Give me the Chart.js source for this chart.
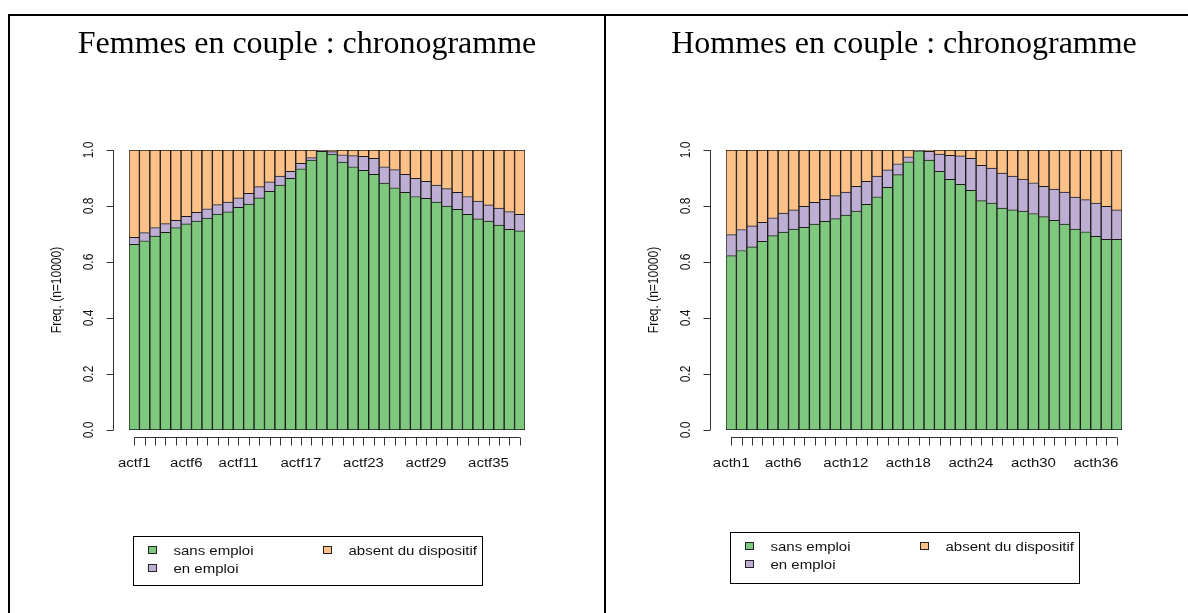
<!DOCTYPE html>
<html lang="fr">
<head>
<meta charset="utf-8">
<title>Chronogrammes</title>
<script src="https://cdn.jsdelivr.net/npm/chart.js@4"></script>
<style>
  html, body { margin: 0; padding: 0; background: #fff; overflow: hidden; }
  body { width: 1188px; height: 613px; position: relative; }
  .frame { position: absolute; left: 8px; top: 14px; width: 1200px; height: 620px;
           border-top: 2px solid #000; border-left: 2px solid #000; }
  .sep { position: absolute; left: 604px; top: 14px; width: 2px; height: 620px; background: #000; }
  .panel { position: absolute; top: 16px; width: 594px; height: 597px; }
  #p1 { left: 10px; }
  #p2 { left: 607px; }
</style>
</head>
<body>
<div class="frame"></div>
<div class="sep"></div>
<div class="panel" id="p1"><canvas id="femmes"></canvas></div>
<div class="panel" id="p2"><canvas id="hommes"></canvas></div>

<script>
// états et couleurs (palette Accent)
const etats = ['sans emploi', 'en emploi', 'absent du dispositif'];
const couleurs = ['#7FC97F', '#BEAED4', '#FDC086'];
const yTicks = [0, 0.2, 0.4, 0.6, 0.8, 1.0];

// femmes en couple
const femmesLabels = Array.from({ length: 38 }, (_, i) => 'actf' + (i + 1));
const femmesTicks = ['actf1', 'actf6', 'actf11', 'actf17', 'actf23', 'actf29', 'actf35'];
const femmesSansEmploi = [0.663, 0.676, 0.693, 0.706, 0.723, 0.736, 0.746, 0.757, 0.771, 0.779,
  0.795, 0.807, 0.829, 0.852, 0.875, 0.899, 0.933, 0.964, 0.995, 0.985,
  0.957, 0.940, 0.927, 0.913, 0.882, 0.865, 0.849, 0.834, 0.827, 0.814,
  0.800, 0.788, 0.770, 0.754, 0.746, 0.732, 0.717, 0.711];
const femmesEnEmploi = [0.025, 0.029, 0.030, 0.031, 0.026, 0.027, 0.031, 0.033, 0.034, 0.035,
  0.034, 0.038, 0.040, 0.034, 0.032, 0.025, 0.019, 0.009, 0.003, 0.009,
  0.026, 0.040, 0.050, 0.057, 0.058, 0.065, 0.064, 0.065, 0.061, 0.061,
  0.062, 0.061, 0.064, 0.064, 0.058, 0.061, 0.063, 0.059];
const femmesAbsent = [0.312, 0.295, 0.277, 0.263, 0.251, 0.237, 0.223, 0.210, 0.195, 0.186,
  0.171, 0.155, 0.131, 0.114, 0.093, 0.076, 0.048, 0.027, 0.002, 0.006,
  0.017, 0.020, 0.023, 0.030, 0.060, 0.070, 0.087, 0.101, 0.112, 0.125,
  0.138, 0.151, 0.166, 0.182, 0.196, 0.207, 0.220, 0.230];

// hommes en couple
const hommesLabels = Array.from({ length: 38 }, (_, i) => 'acth' + (i + 1));
const hommesTicks = ['acth1', 'acth6', 'acth12', 'acth18', 'acth24', 'acth30', 'acth36'];
const hommesSansEmploi = [0.623, 0.641, 0.654, 0.674, 0.694, 0.707, 0.718, 0.724, 0.735, 0.745,
  0.755, 0.768, 0.782, 0.806, 0.833, 0.867, 0.912, 0.958, 0.997, 0.964,
  0.924, 0.895, 0.877, 0.856, 0.819, 0.810, 0.793, 0.786, 0.782, 0.773,
  0.762, 0.749, 0.735, 0.718, 0.708, 0.692, 0.681, 0.681];
const hommesEnEmploi = [0.075, 0.075, 0.075, 0.068, 0.064, 0.068, 0.068, 0.075, 0.078, 0.079,
  0.082, 0.082, 0.088, 0.082, 0.074, 0.062, 0.039, 0.018, 0.002, 0.031,
  0.061, 0.086, 0.102, 0.114, 0.126, 0.125, 0.125, 0.121, 0.114, 0.110,
  0.108, 0.111, 0.115, 0.114, 0.115, 0.118, 0.118, 0.105];
const hommesAbsent = [0.302, 0.284, 0.271, 0.258, 0.242, 0.225, 0.214, 0.201, 0.187, 0.176,
  0.163, 0.150, 0.130, 0.112, 0.093, 0.071, 0.049, 0.024, 0.001, 0.005,
  0.015, 0.019, 0.021, 0.030, 0.055, 0.065, 0.082, 0.093, 0.104, 0.117,
  0.130, 0.140, 0.150, 0.168, 0.177, 0.190, 0.201, 0.214];

const SX = 1.25; // le graphique R est étiré horizontalement
const FONT = '12px "Liberation Sans", Arial, sans-serif';

function texte(ctx, str, x, y, align, rot) {
    ctx.save();
    ctx.translate(x, y);
    ctx.scale(SX, 1);
    if (rot) ctx.rotate(-Math.PI / 2);
    ctx.textAlign = align;
    ctx.textBaseline = 'middle';
    ctx.fillText(str, 0, 0);
    ctx.restore();
}

// axes, titre et légende à la façon de barplot()
const axesR = {
    id: 'axesR',
    afterDraw(chart, args, opts) {
        const { ctx, chartArea, scales: { x, y } } = chart;
        const labels = chart.data.labels;

        ctx.save();
        ctx.fillStyle = '#000';
        ctx.font = '32px "Liberation Serif", "Times New Roman", serif';
        ctx.textAlign = 'center';
        ctx.textBaseline = 'alphabetic';
        ctx.fillText(opts.titre, chart.width / 2, 37);

        ctx.strokeStyle = '#333';
        ctx.lineWidth = 1;
        ctx.fillStyle = '#111';
        ctx.font = FONT;

        // axe des y
        const ax = Math.round(chartArea.left - 16) + 0.5;
        ctx.beginPath();
        ctx.moveTo(ax, y.getPixelForValue(0));
        ctx.lineTo(ax, y.getPixelForValue(1));
        yTicks.forEach(v => {
            const py = Math.round(y.getPixelForValue(v)) + 0.5;
            ctx.moveTo(ax, py);
            ctx.lineTo(ax - 7, py);
        });
        ctx.stroke();
        yTicks.forEach(v => texte(ctx, v.toFixed(1), ax - 25, y.getPixelForValue(v), 'center', true));
        texte(ctx, 'Freq. (n=10000)', ax - 57, (chartArea.top + chartArea.bottom) / 2, 'center', true);

        // axe des x
        const ay = Math.round(chartArea.bottom + 7) + 0.5;
        ctx.beginPath();
        ctx.moveTo(x.getPixelForValue(0), ay);
        ctx.lineTo(x.getPixelForValue(labels.length - 1), ay);
        labels.forEach((l, i) => {
            const px = Math.round(x.getPixelForValue(i)) + 0.5;
            ctx.moveTo(px, ay);
            ctx.lineTo(px, ay + 8);
        });
        ctx.stroke();
        opts.ticks.forEach(l => {
            texte(ctx, l, x.getPixelForValue(labels.indexOf(l)), ay + 26, 'center', false);
        });

        // légende
        const [haut, bas] = opts.legende;
        const lx = 123.5, lt = haut + 0.5, lw = 349, lh = bas - haut;
        ctx.strokeStyle = '#000';
        ctx.strokeRect(lx, lt, lw, lh);
        const pos = [[15, 14], [15, 32], [190, 14]];
        chart.data.datasets.forEach((ds, i) => {
            const [dx, dy] = pos[i];
            ctx.fillStyle = ds.backgroundColor;
            ctx.fillRect(lx + dx, lt + dy - 4, 8, 7);
            ctx.strokeStyle = '#222';
            ctx.strokeRect(lx + dx, lt + dy - 4, 8, 7);
            ctx.fillStyle = '#111';
            texte(ctx, ds.label, lx + dx + 25, lt + dy + 1, 'left', false);
        });
        ctx.restore();
    }
};

function chronogramme(id, titre, labels, ticks, legende, series) {
    new Chart(document.getElementById(id), {
        type: 'bar',
        data: {
            labels: labels,
            datasets: series.map((data, i) => ({
                label: etats[i],
                data: data,
                backgroundColor: couleurs[i],
                borderColor: '#1a1a1a',
                borderWidth: 1,
                borderSkipped: i === 0 ? false : 'start',
                barPercentage: 1,
                categoryPercentage: 1
            }))
        },
        options: {
            responsive: true,
            maintainAspectRatio: false,
            animation: false,
            layout: { padding: { left: 119, right: 79, top: 134, bottom: 183 } },
            plugins: {
                legend: { display: false },
                tooltip: { enabled: false },
                axesR: { titre: titre, ticks: ticks, legende: legende }
            },
            scales: {
                x: { stacked: true, display: false },
                y: { stacked: true, display: false, min: 0, max: 1 }
            }
        },
        plugins: [axesR]
    });
}

chronogramme('femmes', 'Femmes en couple : chronogramme', femmesLabels, femmesTicks, [520, 569],
    [femmesSansEmploi, femmesEnEmploi, femmesAbsent]);
chronogramme('hommes', 'Hommes en couple : chronogramme', hommesLabels, hommesTicks, [516, 567],
    [hommesSansEmploi, hommesEnEmploi, hommesAbsent]);
</script>
</body>
</html>
